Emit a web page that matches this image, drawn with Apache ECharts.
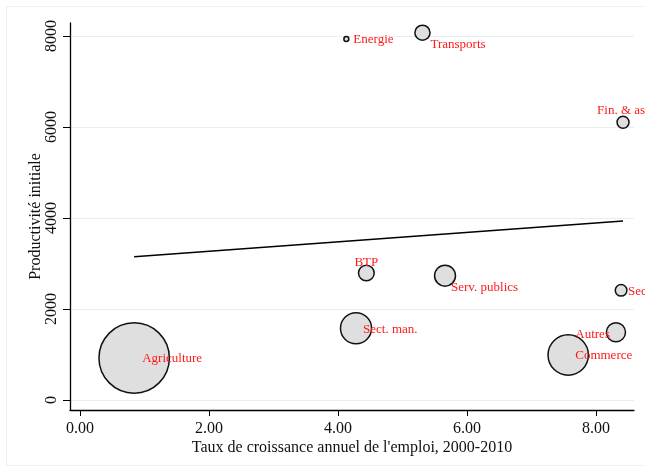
<!DOCTYPE html>
<html>
<head>
<meta charset="utf-8">
<script src="https://cdn.jsdelivr.net/npm/echarts@6/dist/echarts.min.js"></script>
<style>
html,body{margin:0;padding:0;background:#fff;}
#chart{width:645px;height:472px;}
</style>
</head>
<body>
<div id="chart"></div>
<script>
// ---- Data ----
var secteurs = ['Agriculture', 'Energie', 'Transports', 'Fin. & assurances', 'BTP', 'Serv. publics', 'Sect. immobilier', 'Sect. man.', 'Autres', 'Commerce'];
var croissance = [0.84, 4.13, 5.31, 8.42, 4.44, 5.66, 8.39, 4.28, 8.31, 7.57];      // Taux de croissance annuel de l'emploi (%)
var productivite = [923, 7934, 8073, 6103, 2791, 2732, 2411, 1576, 1488, 989];      // Productivité initiale
var emploi = [53, 0.37, 2.7, 1.75, 2.9, 5.0, 1.66, 10.7, 4.2, 17.8];                 // Poids (part de l'emploi)
var ajustX = [0.84, 8.42];       // droite d'ajustement
var ajustY = [3150, 3934];
var xTicks = [0, 2, 4, 6, 8];
var yTicks = [0, 2000, 4000, 6000, 8000];

// ---- Label placement (Stata clock positions) ----
var labelPlace = {
  'Agriculture': {align: 'left', offset: [8, 1]},
  'Energie': {align: 'left', offset: [7, 1]},
  'Transports': {align: 'left', offset: [8, 12]},
  'Fin. & assurances': {align: 'left', offset: [-26, -12]},
  'BTP': {align: 'center', offset: [0, -10]},
  'Serv. publics': {align: 'left', offset: [6, 12]},
  'Sect. immobilier': {align: 'left', offset: [7, 1]},
  'Sect. man.': {align: 'left', offset: [7, 1]},
  'Autres': {align: 'right', offset: [-6, 2]},
  'Commerce': {align: 'left', offset: [7, 1]}
};

var serif = '"Liberation Serif", "Times New Roman", Times, serif';
var maxW = Math.max.apply(null, emploi);

var points = secteurs.map(function (s, i) {
  var p = labelPlace[s];
  return {
    name: s,
    value: [croissance[i], productivite[i], emploi[i]],
    label: {align: p.align}
  };
});

var chart = echarts.init(document.getElementById('chart'), null, {renderer: 'canvas'});
chart.setOption({
  animation: false,
  backgroundColor: '#ffffff',
  graphic: [{
    type: 'rect',
    shape: {x: 6.5, y: 6.5, width: 680, height: 459},
    style: {fill: 'none', stroke: '#eef0f0', lineWidth: 1},
    z: -10
  }],
  grid: {left: 70, top: 23, right: 11, bottom: 62, containLabel: false},
  xAxis: {
    type: 'value',
    min: -0.155,
    max: 8.59,
    name: "Taux de croissance annuel de l'emploi, 2000-2010",
    nameLocation: 'middle',
    nameGap: 30,
    nameMoveOverlap: false,
    nameTextStyle: {fontFamily: serif, fontSize: 16, color: '#111'},
    axisLine: {show: true, onZero: false, lineStyle: {color: '#000', width: 1.3}},
    axisTick: {show: true, length: 6, customValues: xTicks, lineStyle: {color: '#000', width: 1}},
    axisLabel: {
      customValues: xTicks, margin: 11,
      fontFamily: serif, fontSize: 16, color: '#111',
      formatter: function (v) { return v.toFixed(2); }
    },
    splitLine: {show: false}
  },
  yAxis: {
    type: 'value',
    min: -220,
    max: 8286,
    name: 'Productivité initiale',
    nameLocation: 'middle',
    nameGap: 26,
    nameRotate: 90,
    nameMoveOverlap: false,
    nameTextStyle: {fontFamily: serif, fontSize: 16, color: '#111'},
    axisLine: {show: true, onZero: false, lineStyle: {color: '#000', width: 1.3}},
    axisTick: {show: true, length: 7, customValues: yTicks, lineStyle: {color: '#000', width: 1}},
    axisLabel: {
      customValues: yTicks, rotate: 90, margin: 10,
      fontFamily: serif, fontSize: 16, color: '#111',
      formatter: function (v) { return String(v); }
    },
    splitLine: {show: true, lineStyle: {color: '#e6eef0', width: 1.2}}
  },
  series: [
    {
      type: 'line',
      data: ajustX.map(function (x, i) { return [x, ajustY[i]]; }),
      symbol: 'none',
      lineStyle: {color: '#000', width: 1.5},
      z: 3,
      silent: true
    },
    {
      type: 'scatter',
      data: points,
      symbolSize: function (val) { return 71.4 * Math.sqrt(val[2] / maxW) - 1; },
      itemStyle: {color: '#dfdfdf', borderColor: '#111', borderWidth: 1.5, opacity: 1},
      label: {
        show: true,
        position: 'inside',
        verticalAlign: 'middle',
        formatter: function (p) { return p.name; },
        fontFamily: serif,
        fontSize: 13,
        color: '#ff1a1a'
      },
      labelLayout: function (params) {
        var p = labelPlace[secteurs[params.dataIndex]];
        return {dx: p.offset[0], dy: p.offset[1], hideOverlap: false};
      },
      z: 4
    }
  ]
});
</script>
</body>
</html>
